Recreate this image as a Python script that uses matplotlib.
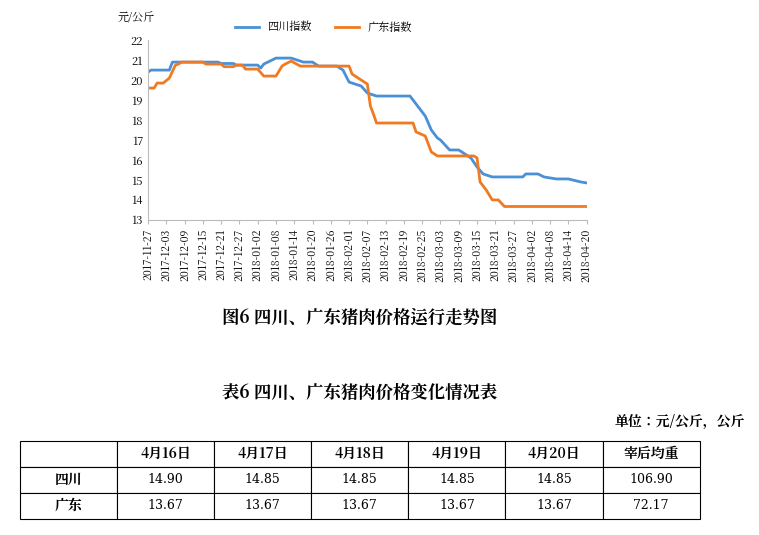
import numpy as np
import pandas as pd
import matplotlib
matplotlib.use('Agg')
import matplotlib.pyplot as plt
from matplotlib import font_manager

# find an installed CJK font
cjk = None
for f in font_manager.fontManager.ttflist:
    if 'CJK' in f.name and ('SC' in f.name or cjk is None):
        cjk = f.name
        if 'SC' in f.name:
            break
plt.rcParams['font.family'] = 'sans-serif'
plt.rcParams['font.sans-serif'] = [cjk or 'Noto Sans CJK SC', 'DejaVu Sans']

start = pd.Timestamp('2017-11-27')

# day offsets from 2017-11-27 and index values
sc_days = [0, 1, 7, 8, 23, 24, 28, 29, 36, 37, 38, 42, 47, 51, 54, 56, 62, 64, 66, 70,
           72, 75, 86, 88, 91, 93, 95, 96, 99, 102, 106, 108, 110, 113, 123, 124, 128,
           130, 134, 138, 142, 144]
sc_vals = [20.4, 20.5, 20.5, 20.9, 20.9, 20.83, 20.83, 20.75, 20.75, 20.6, 20.8, 21.1,
           21.1, 20.9, 20.9, 20.7, 20.7, 20.5, 19.9, 19.7, 19.35, 19.2, 19.2, 18.8, 18.2,
           17.5, 17.1, 17.0, 16.5, 16.5, 16.1, 15.65, 15.3, 15.15, 15.15, 15.3, 15.3,
           15.15, 15.05, 15.05, 14.9, 14.85]

gd_days = [0, 2, 3, 5, 7, 9, 10, 11, 18, 19, 24, 25, 28, 29, 31, 32, 36, 38, 42, 44,
           45, 47, 50, 66, 67, 70, 72, 73, 74, 75, 87, 88, 91, 93, 95, 107, 108, 109,
           111, 113, 115, 117, 144]
gd_vals = [19.6, 19.6, 19.85, 19.85, 20.1, 20.75, 20.8, 20.9, 20.9, 20.8, 20.8, 20.67,
           20.67, 20.75, 20.75, 20.55, 20.55, 20.2, 20.2, 20.7, 20.8, 20.95, 20.7, 20.7,
           20.3, 20.0, 19.8, 18.7, 18.3, 17.85, 17.85, 17.4, 17.2, 16.4, 16.2, 16.2,
           16.1, 14.9, 14.5, 14.0, 14.0, 13.67, 13.67]

col_labels = ['', '4月16日', '4月17日', '4月18日', '4月19日', '4月20日', '宰后均重']
sc_row = ['四川', '14.90', '14.85', '14.85', '14.85', '14.85', '106.90']
gd_row = ['广东', '13.67', '13.67', '13.67', '13.67', '13.67', '72.17']

blue = '#4a90d6'
orange = '#f07a22'

fig = plt.figure(figsize=(7.59, 5.35), dpi=100)
ax = fig.add_axes([0.195, 0.589, 0.578, 0.336])

sc_x = start + pd.to_timedelta(sc_days, unit='D')
gd_x = start + pd.to_timedelta(gd_days, unit='D')
ax.plot(sc_x, sc_vals, color=blue, lw=2, label='四川指数')
ax.plot(gd_x, gd_vals, color=orange, lw=2, label='广东指数')

ticks = pd.date_range('2017-11-27', '2018-04-20', freq='6D')
ax.set_xticks(ticks)
ax.set_xticklabels([t.strftime('%Y-%m-%d') for t in ticks], rotation=90, fontsize=7.5)
ax.set_xlim(ticks[0], ticks[-1])
ax.set_ylim(13, 22)
ax.set_yticks(range(13, 23))
ax.tick_params(axis='y', labelsize=8, length=0)
ax.tick_params(axis='x', length=3, color='#bbbbbb')
for s in ['top', 'right']:
    ax.spines[s].set_visible(False)
ax.spines['left'].set_color('#bbbbbb')
ax.spines['bottom'].set_color('#bbbbbb')

fig.text(118 / 759, 1 - 18 / 535, '元/公斤', fontsize=8, va='center')
ax.legend(loc='lower center', bbox_to_anchor=(0.4, 1.0), ncol=2, frameon=False,
          fontsize=8, handlelength=2.2, borderaxespad=0.2)

fig.text(360 / 759, 1 - 318 / 535, '图6 四川、广东猪肉价格运行走势图', fontsize=12.5,
         fontweight='bold', ha='center', va='center')
fig.text(360 / 759, 1 - 393 / 535, '表6 四川、广东猪肉价格变化情况表', fontsize=12.5,
         fontweight='bold', ha='center', va='center')
fig.text(745 / 759, 1 - 422 / 535, '单位：元/公斤，公斤', fontsize=10,
         fontweight='bold', ha='right', va='center')

tax = fig.add_axes([0.026, 0.030, 0.896, 0.146])
tax.axis('off')
tbl = tax.table(cellText=[sc_row, gd_row], colLabels=col_labels, bbox=[0, 0, 1, 1],
                cellLoc='center')
tbl.auto_set_font_size(False)
for (r, c), cell in tbl.get_celld().items():
    cell.set_linewidth(0.8)
    txt = cell.get_text()
    txt.set_fontsize(10)
    if r == 0 or c == 0:
        txt.set_fontweight('bold')
    else:
        txt.set_family('DejaVu Serif')
        txt.set_fontsize(9)

fig.savefig('out.png', dpi=100)
